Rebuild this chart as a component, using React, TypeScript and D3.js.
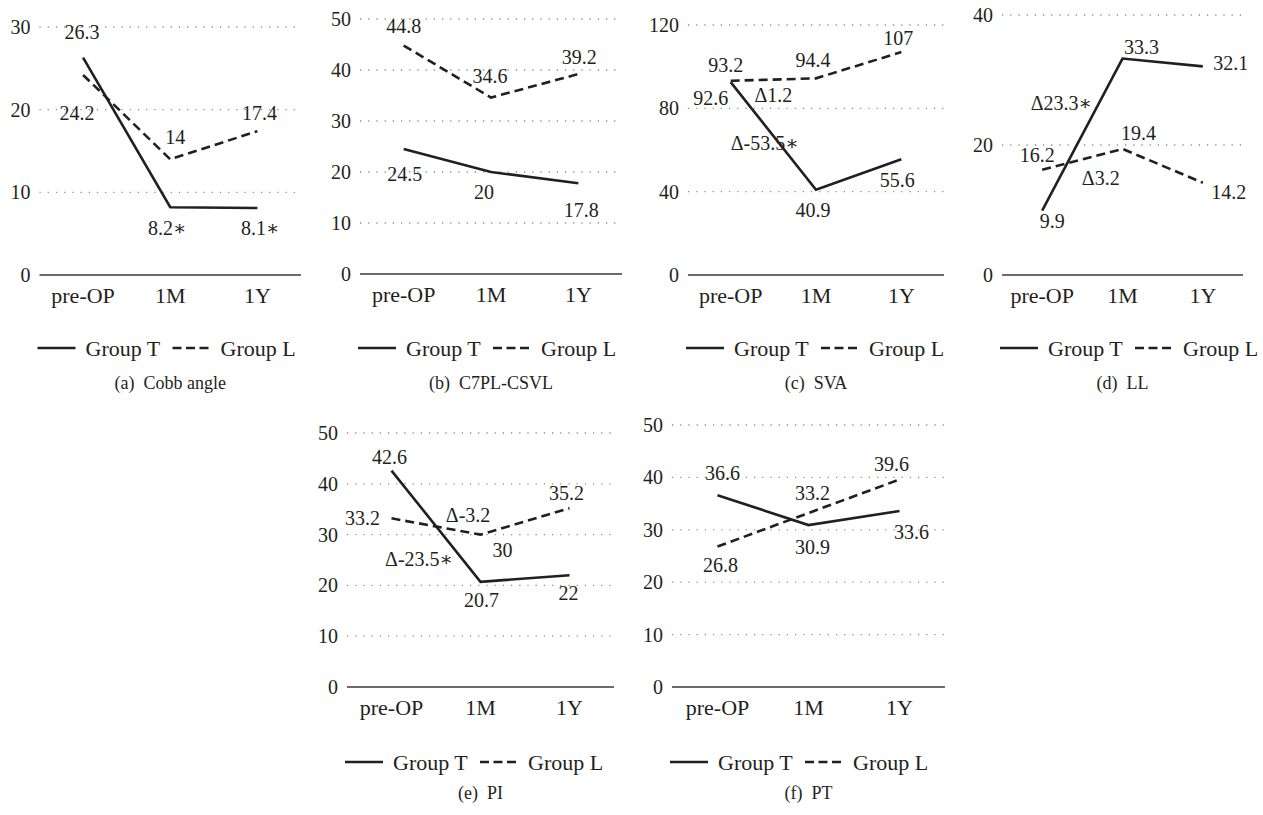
import * as d3 from 'd3';

// categories + series values
const categories = ['pre-OP', '1M', '1Y'];

const cobbT = [26.3, 8.2, 8.1];
const cobbL = [24.2, 14, 17.4];
const cobbSigT = [false, true, true];
const cobbTicks = [0, 10, 20, 30];

const c7T = [24.5, 20, 17.8];
const c7L = [44.8, 34.6, 39.2];
const c7Ticks = [0, 10, 20, 30, 40, 50];

const svaT = [92.6, 40.9, 55.6];
const svaL = [93.2, 94.4, 107];
const svaTicks = [0, 40, 80, 120];

const llT = [9.9, 33.3, 32.1];
const llL = [16.2, 19.4, 14.2];
const llTicks = [0, 20, 40];

const piT = [42.6, 20.7, 22];
const piL = [33.2, 30, 35.2];
const piTicks = [0, 10, 20, 30, 40, 50];

const ptT = [36.6, 30.9, 33.6];
const ptL = [26.8, 33.2, 39.6];
const ptTicks = [0, 10, 20, 30, 40, 50];

const noSig = [false, false, false];

const FONT = "'Liberation Serif', 'DejaVu Serif', serif";
const INK = '#231f20';

type Note = { text: string; at: number; v: number };

interface Panel {
  caption: string;
  t: number[];
  l: number[];
  sigT: boolean[];
  ticks: number[];
  // layout
  x0: number; x1: number; yBase: number; yTop: number;
  offT: number[][]; offL: number[][];
  notes: Note[];
}

const panels: Panel[] = [
  {
    caption: '(a)  Cobb angle', t: cobbT, l: cobbL, sigT: cobbSigT, ticks: cobbTicks,
    x0: 39.5, x1: 301, yBase: 275, yTop: 27,
    offT: [[-1, -26], [-3, 21], [3, 20]], offL: [[-6, 38], [5, -22], [2, -18]],
    notes: [],
  },
  {
    caption: '(b)  C7PL-CSVL', t: c7T, l: c7L, sigT: noSig, ticks: c7Ticks,
    x0: 360, x1: 622, yBase: 274, yTop: 19,
    offT: [[1, 25], [-7, 20], [3, 27]], offL: [[0, -20], [-1, -22], [1, -17]],
    notes: [],
  },
  {
    caption: '(c)  SVA', t: svaT, l: svaL, sigT: noSig, ticks: svaTicks,
    x0: 688, x1: 944, yBase: 275, yTop: 25,
    offT: [[-20, 16], [-3, 20], [-4, 21]], offL: [[-5, -16], [-3, -18], [-3, -14]],
    notes: [{ text: 'Δ1.2', at: 0.5, v: 86.4 }, { text: 'Δ-53.5∗', at: 0.4, v: 63.4 }],
  },
  {
    caption: '(d)  LL', t: llT, l: llL, sigT: noSig, ticks: llTicks,
    x0: 1002, x1: 1243, yBase: 275, yTop: 15,
    offT: [[10, 10], [19, -12], [28, -3]], offL: [[-5, -15], [16, -16], [26, 9]],
    notes: [{ text: 'Δ23.3∗', at: 0.24, v: 26.5 }, { text: 'Δ3.2', at: 0.73, v: 14.9 }],
  },
  {
    caption: '(e)  PI', t: piT, l: piL, sigT: noSig, ticks: piTicks,
    x0: 347, x1: 614, yBase: 687, yTop: 433,
    offT: [[-2, -14], [1, 18], [-1, 18]], offL: [[-29, 0], [22, 15], [-3, -15]],
    notes: [{ text: 'Δ-3.2', at: 0.86, v: 33.9 }, { text: 'Δ-23.5∗', at: 0.31, v: 25.2 }],
  },
  {
    caption: '(f)  PT', t: ptT, l: ptL, sigT: noSig, ticks: ptTicks,
    x0: 672, x1: 945, yBase: 687, yTop: 425,
    offT: [[5, -22], [4, 22], [12, 21]], offL: [[3, 18], [4, -20], [-8, -15]],
    notes: [],
  },
];

function LinePanel({ p }: { p: Panel }) {
  const x = d3.scalePoint<string>().domain(categories).range([p.x0, p.x1]).padding(0.5);
  const top = d3.max(p.ticks) as number;
  const y = d3.scaleLinear().domain([0, top]).range([p.yBase, p.yTop]);
  const line = d3.line<number>()
    .x((_, i) => x(categories[i]) as number)
    .y((d) => y(d));

  const mid = (p.x0 + p.x1) / 2;
  const lx = p.x0 - 2;
  const ly = p.yBase === 687 ? 762 : 348;
  const cy = p.yBase === 687 ? 793 : 383;

  const label = (v: number, i: number, off: number[], star: boolean, key: string) => (
    <text key={key} x={(x(categories[i]) as number) + off[0]} y={y(v) + off[1]}
      textAnchor="middle" dominantBaseline="central">
      {String(v) + (star ? '∗' : '')}
    </text>
  );

  return (
    <g style={{ fontFamily: FONT }} fill={INK}>
      {p.ticks.filter((t) => t > 0).map((t) => (
        <line key={'g' + t} x1={p.x0} x2={p.x1} y1={y(t)} y2={y(t)}
          stroke="#8a8a8a" strokeWidth={1.3} strokeDasharray="1.2 7" />
      ))}
      <line x1={p.x0} x2={p.x1} y1={p.yBase} y2={p.yBase} stroke="#3a3a3a" strokeWidth={1.3} />
      {p.ticks.map((t) => (
        <text key={'t' + t} x={p.x0 - 9} y={y(t)} textAnchor="end" dominantBaseline="central" fontSize={20}>
          {t}
        </text>
      ))}
      {categories.map((c) => (
        <text key={c} x={x(c)} y={p.yBase + 20} textAnchor="middle" dominantBaseline="central" fontSize={22}>
          {c}
        </text>
      ))}
      <path d={line(p.l) as string} fill="none" stroke={INK} strokeWidth={2.6} strokeDasharray="9 5" />
      <path d={line(p.t) as string} fill="none" stroke={INK} strokeWidth={2.6} />
      <g fontSize={20}>
        {p.t.map((v, i) => label(v, i, p.offT[i], p.sigT[i], 'lt' + i))}
        {p.l.map((v, i) => label(v, i, p.offL[i], false, 'll' + i))}
        {p.notes.map((n, i) => (
          <text key={'n' + i} x={(x(categories[0]) as number) + n.at * x.step()} y={y(n.v)}
            textAnchor="middle" dominantBaseline="central">
            {n.text}
          </text>
        ))}
      </g>
      <g fontSize={22}>
        <line x1={lx} x2={lx + 38} y1={ly} y2={ly} stroke={INK} strokeWidth={2.6} />
        <text x={lx + 48} y={ly} dominantBaseline="central">Group T</text>
        <line x1={lx + 135} x2={lx + 172} y1={ly} y2={ly} stroke={INK} strokeWidth={2.6} strokeDasharray="9 4.5" />
        <text x={lx + 183} y={ly} dominantBaseline="central">Group L</text>
      </g>
      <text x={mid} y={cy} textAnchor="middle" dominantBaseline="central" fontSize={18} style={{ whiteSpace: 'pre' }}>
        {p.caption}
      </text>
    </g>
  );
}

export default function App() {
  return (
    <svg width={1263} height={815} style={{ position: 'absolute', left: 0, top: 0, background: '#fff' }}>
      {panels.map((p) => <LinePanel key={p.caption} p={p} />)}
    </svg>
  );
}
